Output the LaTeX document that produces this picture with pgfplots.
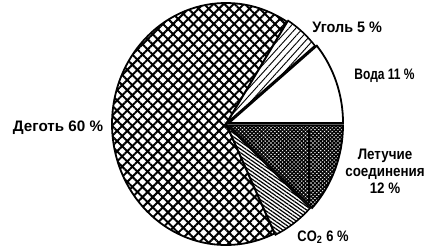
\documentclass[border=0pt]{standalone}
\usepackage{pgfplots}
\pgfplotsset{compat=1.18}
\usepackage{pgfplotstable}
\usetikzlibrary{patterns.meta}
\usepackage{fontspec}
\setmainfont{Liberation Sans}

% share of each component, in %, counter-clockwise from 0 deg
\pgfplotstableread{
pct explode
11 1.6
5  0.8
60 0
6  0.8
12 1.6
}\pietable

\newcommand\pieslice[4]{%
  \pgfmathsetmacro\midang{(#1+#2)/2}%
  \path[#4] (axis cs:226,124) ++(\midang:#3pt) -- ++(#1:57pt and 60.5pt)
     arc[start angle=#1,end angle=#2,x radius=57pt,y radius=60.5pt] -- cycle;%
}

\begin{document}
\begin{tikzpicture}
\pgfplotstablegetelem{0}{pct}\of\pietable \edef\pVoda{\pgfplotsretval}
\pgfplotstablegetelem{1}{pct}\of\pietable \edef\pUgol{\pgfplotsretval}
\pgfplotstablegetelem{2}{pct}\of\pietable \edef\pDeg{\pgfplotsretval}
\pgfplotstablegetelem{3}{pct}\of\pietable \edef\pCO{\pgfplotsretval}
\pgfplotstablegetelem{4}{pct}\of\pietable \edef\pLet{\pgfplotsretval}
\pgfplotstablegetelem{0}{explode}\of\pietable \edef\eVoda{\pgfplotsretval}
\pgfplotstablegetelem{1}{explode}\of\pietable \edef\eUgol{\pgfplotsretval}
\pgfplotstablegetelem{3}{explode}\of\pietable \edef\eCO{\pgfplotsretval}
\pgfplotstablegetelem{4}{explode}\of\pietable \edef\eLet{\pgfplotsretval}
\pgfmathsetmacro\aB{\pVoda*3.6}
\pgfmathsetmacro\aC{\aB+\pUgol*3.6}
\pgfmathsetmacro\aE{360-\pLet*3.6}
\pgfmathsetmacro\aD{\aE-\pCO*3.6}
\begin{axis}[hide axis, x=0.5pt, y=0.5pt, xmin=0, xmax=426, ymin=0, ymax=248,
  clip=false, scale only axis]
\pgfplotsextra{%
  % Degot' (remaining part of the circle)
  \pieslice{\aC}{\aD}{0}{fill=white, draw=black, line width=0.9pt,
     postaction={pattern={Lines[angle=45,distance=3.6pt,line width=1pt]}},
     postaction={pattern={Lines[angle=-45,distance=3.6pt,line width=1pt]}}}
  % Voda
  \pieslice{0}{\aB}{\eVoda}{fill=white, draw=black, line width=0.9pt}
  % Ugol'
  \pieslice{\aB}{\aC}{\eUgol}{fill=white, draw=black, line width=0.8pt,
     postaction={pattern={Lines[angle=48,distance=2.6pt,line width=0.45pt]}}}
  % CO2
  \pieslice{\aD}{\aE}{\eCO}{fill=white, draw=black, line width=0.8pt,
     postaction={pattern={Lines[angle=-35,distance=1.5pt,line width=0.6pt]}}}
  % Letuchie
  \pieslice{\aE}{360}{\eLet}{fill=white, draw=black, line width=0.9pt,
     postaction={pattern={Lines[angle=45,distance=1.35pt,line width=0.7pt]}},
     postaction={pattern={Lines[angle=-45,distance=1.35pt,line width=0.7pt]}}}
  \draw[line width=0.9pt] (axis cs:309,119) -- (axis cs:309,46);
}
\begin{scope}[font=\bfseries\fontsize{7.6}{8.8}\selectfont]
\node[anchor=west, inner sep=0pt] at (axis cs:312,221) {\scalebox{0.95}[1]{Уголь 5 \%}};
\node[anchor=west, inner sep=0pt] at (axis cs:354,172) {\scalebox{0.79}[1]{Вода 11 \%}};
\node[inner sep=0pt] at (axis cs:58,120) {Деготь 60 \%};
\node[inner sep=0pt] at (axis cs:385,75) {\scalebox{0.88}[1]{\begin{tabular}{@{}c@{}}Летучие\\[-0.5pt]соединения\\[-0.5pt]12 \%\end{tabular}}};
\node[inner sep=0pt] at (axis cs:323,11) {\scalebox{0.85}[1]{CO\textsubscript{2} 6 \%}};
\end{scope}
\end{axis}
\pgfresetboundingbox
\path (current axis.south west) rectangle (current axis.north east);
\end{tikzpicture}
\end{document}
